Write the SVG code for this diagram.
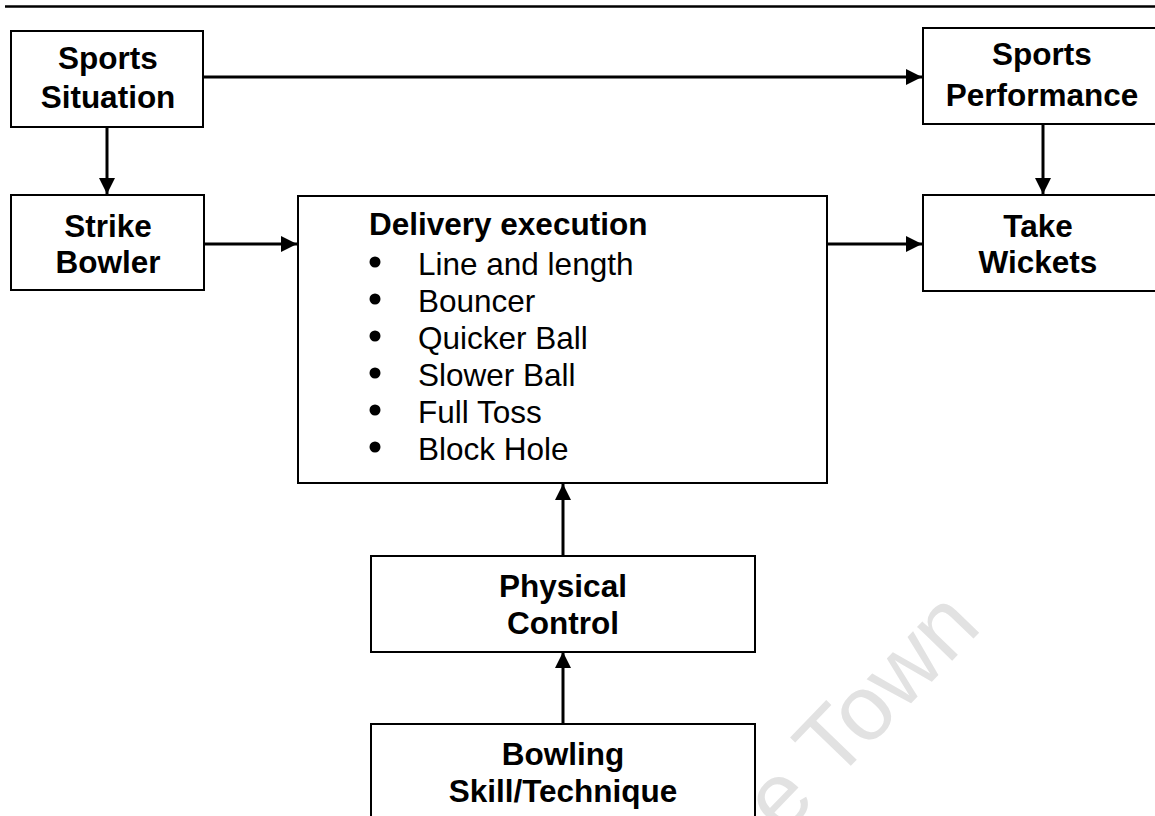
<svg xmlns="http://www.w3.org/2000/svg" width="1155" height="816" viewBox="0 0 1155 816">
  <defs>
    <marker id="arrow" markerUnits="userSpaceOnUse" markerWidth="16" markerHeight="16" viewBox="0 0 16 16" refX="16" refY="8" orient="auto">
      <path d="M0,0 L16,8 L0,16 Z" fill="#000"/>
    </marker>
    <style>
      .box { fill: #fff; stroke: #000; stroke-width: 2; }
      .lbl { font-family: "Liberation Sans", Arial, sans-serif; font-size: 31.5px; font-weight: bold; fill: #000; text-anchor: middle; }
      .item { font-family: "Liberation Sans", Arial, sans-serif; font-size: 31.5px; fill: #000; }
      .head { font-family: "Liberation Sans", Arial, sans-serif; font-size: 31.5px; font-weight: bold; fill: #000; }
      .conn { fill: none; stroke: #000; stroke-width: 3; marker-end: url(#arrow); }
      .wm { font-family: "Liberation Sans", Arial, sans-serif; font-size: 92px; fill: #e2e2e2; }
    </style>
  </defs>

  <rect width="1155" height="816" fill="#fff"/>

  <!-- faint background watermark -->
  <text class="wm" transform="translate(782,837) rotate(-46)">e Town</text>

  <!-- page rule -->
  <line x1="5" y1="6.5" x2="1160" y2="6.5" stroke="#000" stroke-width="2.5"/>

  <g id="connectors">
    <path class="conn" d="M203,77 H922"/>
    <path class="conn" d="M107,127 V194"/>
    <path class="conn" d="M1043,124 V194"/>
    <path class="conn" d="M204,244 H297"/>
    <path class="conn" d="M827,244 H922"/>
    <path class="conn" d="M563,556 V484"/>
    <path class="conn" d="M563,724 V652"/>
  </g>

  <g id="sports-situation">
    <rect class="box" x="11" y="31" width="192" height="96"/>
    <text class="lbl" x="108" y="69">Sports</text>
    <text class="lbl" x="108" y="108">Situation</text>
  </g>

  <g id="sports-performance">
    <rect class="box" x="923" y="28" width="240" height="96"/>
    <text class="lbl" x="1042" y="65">Sports</text>
    <text class="lbl" x="1042" y="106">Performance</text>
  </g>

  <g id="strike-bowler">
    <rect class="box" x="11" y="195" width="193" height="95"/>
    <text class="lbl" x="108" y="237">Strike</text>
    <text class="lbl" x="108" y="273">Bowler</text>
  </g>

  <g id="delivery-execution">
    <rect class="box" x="298" y="196" width="529" height="287"/>
    <text class="head" x="369" y="235">Delivery execution</text>
    <g fill="#000">
      <circle cx="375" cy="262" r="5.5"/>
      <circle cx="375" cy="299" r="5.5"/>
      <circle cx="375" cy="336" r="5.5"/>
      <circle cx="375" cy="373" r="5.5"/>
      <circle cx="375" cy="410" r="5.5"/>
      <circle cx="375" cy="447" r="5.5"/>
    </g>
    <text class="item" x="418" y="275">Line and length</text>
    <text class="item" x="418" y="312">Bouncer</text>
    <text class="item" x="418" y="349">Quicker Ball</text>
    <text class="item" x="418" y="386">Slower Ball</text>
    <text class="item" x="418" y="423">Full Toss</text>
    <text class="item" x="418" y="460">Block Hole</text>
  </g>

  <g id="take-wickets">
    <rect class="box" x="923" y="195" width="240" height="96"/>
    <text class="lbl" x="1038" y="237">Take</text>
    <text class="lbl" x="1038" y="273">Wickets</text>
  </g>

  <g id="physical-control">
    <rect class="box" x="371" y="556" width="384" height="96"/>
    <text class="lbl" x="563" y="597">Physical</text>
    <text class="lbl" x="563" y="634">Control</text>
  </g>

  <g id="bowling-skill">
    <rect class="box" x="371" y="724" width="384" height="120"/>
    <text class="lbl" x="563" y="765">Bowling</text>
    <text class="lbl" x="563" y="802">Skill/Technique</text>
  </g>
</svg>
